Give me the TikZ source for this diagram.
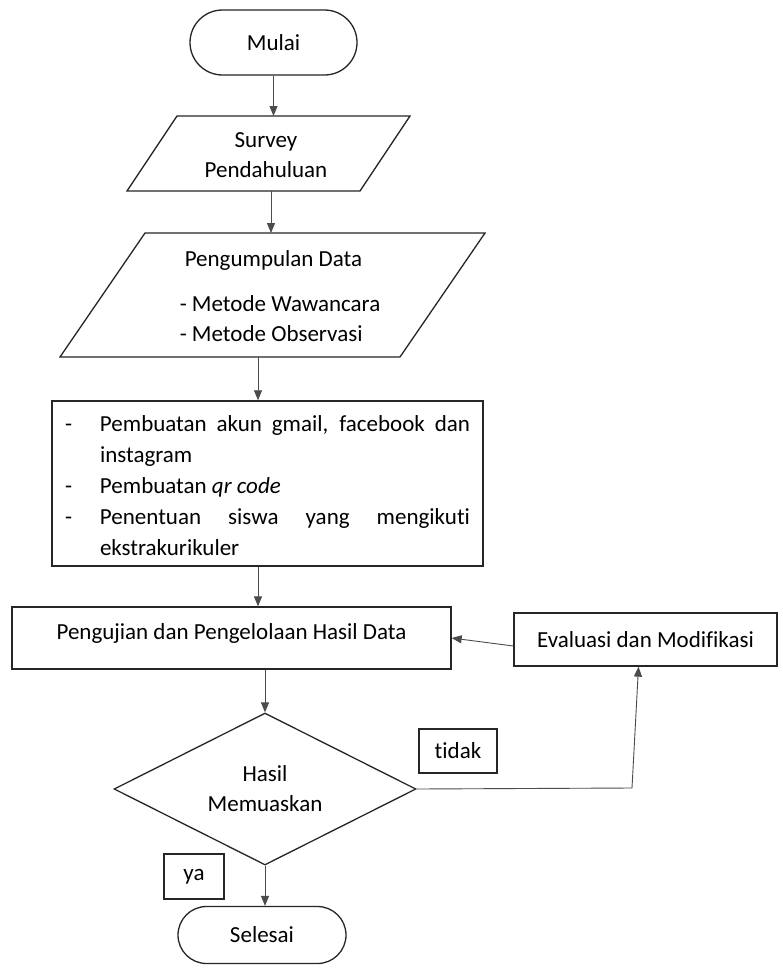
\documentclass[tikz,border=0pt]{standalone}
\usepackage{fontspec}
\setmainfont{Carlito}[Ligatures={CommonOff,ContextualOff}]
\usetikzlibrary{shapes.geometric,shapes.misc,arrows.meta,calc}
\newcommand{\itm}[1]{\par\noindent\hangindent=35pt\hangafter=1\makebox[35pt][l]{-}#1\par}
\begin{document}
\begin{tikzpicture}[x=1pt,y=-1pt,
  font=\fontsize{23}{30}\selectfont,
  shapeline/.style={draw=black!85, line width=1.3pt},
  conn/.style={draw=black!70, line width=0.9pt, -{Triangle[width=8pt,length=10pt]}},
  term/.style={shapeline, rounded rectangle, minimum height=60pt, inner sep=0pt},
  procbox/.style={shapeline, rectangle, inner sep=0pt},
  labelbox/.style={draw=black!85, line width=1.1pt, rectangle, inner sep=0pt}]
\useasboundingbox[fill=white] (0,0) rectangle (782,972);

% Mulai
\node[term, minimum width=167pt, minimum height=65pt] (mulai) at (273.5,42.5) {Mulai};

% Survey Pendahuluan (parallelogram)
\draw[shapeline] (177,116) -- (410,116) -- (360,191) -- (127,191) -- cycle;
\coordinate (svtop) at (271,116);
\coordinate (svbot) at (271,191);
\node[align=center, inner sep=0pt] (survey) at (266,155) {Survey\\Pendahuluan};

% Pengumpulan Data (parallelogram)
\draw[shapeline] (145,233) -- (485,233) -- (400,357) -- (60,357) -- cycle;
\coordinate (pdtop) at (271,233);
\coordinate (pdbot) at (258,357);
\node[align=left, inner sep=0pt] (pengumpulan) at (280,296)
  {\hspace*{5pt}Pengumpulan Data\\[15pt]- Metode Wawancara\\- Metode Observasi};

% Preparation box
\node[procbox, text width=405pt, inner xsep=13pt, minimum height=163pt,
      align=justify, font=\fontsize{23}{31}\selectfont] (prep) at (267.5,483.5)
  {\parskip=0pt\itm{Pembuatan akun gmail, facebook dan\linebreak instagram}\itm{Pembuatan \textit{qr code}}\itm{Penentuan siswa yang mengikuti\linebreak ekstrakurikuler}\nointerlineskip\vbox to 10pt{}};

% Pengujian
\node[procbox, minimum width=439pt, minimum height=62pt] (pengujian) at (231.5,638)
  {\raisebox{5pt}[\height][\depth]{Pengujian dan Pengelolaan Hasil Data}};

% Evaluasi
\node[procbox, minimum width=263pt, minimum height=53pt] (evaluasi) at (645.5,639.5)
  {Evaluasi dan Modifikasi};

% Decision
\node[shapeline, diamond, aspect=2, minimum width=302pt, minimum height=152pt,
      inner sep=0pt, align=center] (keputusan) at (265,789) {Hasil\\Memuaskan};

% labels
\node[labelbox, minimum width=78pt, minimum height=44pt] (tidak) at (458,751) {tidak};
\node[labelbox, minimum width=60pt, minimum height=45pt] (ya) at (194,876.5) {ya};

% Selesai
\node[term, minimum width=168pt, minimum height=57pt] (selesai) at (262,935) {Selesai};

% connectors
\draw[conn] (mulai.south) -- (mulai.south |- svtop);
\draw[conn] (svbot) -- (pdtop);
\draw[conn] (pdbot) -- (pdbot |- prep.north);
\draw[conn] (pdbot |- prep.south) -- (pdbot |- pengujian.north);
\draw[conn] (keputusan.north |- pengujian.south) -- (keputusan.north);
\draw[conn] ([yshift=-6.5pt]evaluasi.west) -- (pengujian.east);
\coordinate (bend) at (632,788);
\draw[conn] (keputusan.east) -- (bend) -- ([xshift=-7pt]evaluasi.south);
\draw[conn] (keputusan.south) -- (keputusan.south |- selesai.north);
\end{tikzpicture}
\end{document}
